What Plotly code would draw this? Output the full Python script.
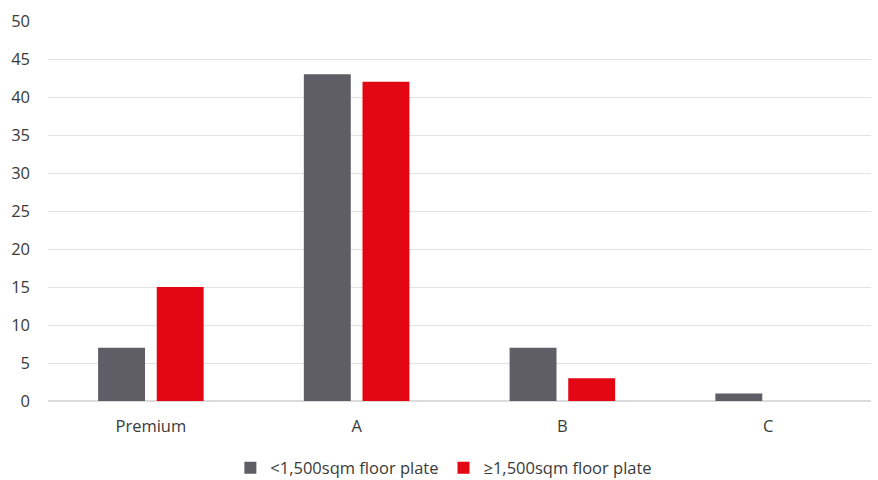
import plotly.graph_objects as go

categories = ["Premium", "A", "B", "C"]
small_plate = [7, 43, 7, 1]
large_plate = [15, 42, 3, 0]
y_ticks = [0, 5, 10, 15, 20, 25, 30, 35, 40, 45, 50]

GRAY = "#5f5e67"
RED = "#e30613"
FONT = "Open Sans, Lato, sans-serif"
TEXT = "#3a3a3a"

fig = go.Figure()
fig.add_trace(go.Bar(
    x=categories, y=small_plate, name="<1,500sqm floor plate",
    marker=dict(color=GRAY, line=dict(width=0)),
))
fig.add_trace(go.Bar(
    x=categories, y=large_plate, name="≥1,500sqm floor plate",
    marker=dict(color=RED, line=dict(width=0)),
))

fig.update_layout(
    width=878, height=480,
    margin=dict(l=48, r=7, t=21, b=79, autoexpand=False),
    paper_bgcolor="white", plot_bgcolor="white",
    barmode="group", bargap=0.43, bargroupgap=0.2,
    font=dict(family=FONT, size=16.5, color=TEXT),
    showlegend=True,
    legend=dict(
        orientation="h", x=0.481, xanchor="center",
        yref="container", y=0.025, yanchor="middle",
        font=dict(size=16.5, color=TEXT), itemwidth=30,
        traceorder="normal",
    ),
    xaxis=dict(
        showgrid=False, showline=False, ticks="",
        tickfont=dict(size=16.5, color=TEXT),
        ticklabelstandoff=13,
    ),
    yaxis=dict(
        range=[0, 50], tickvals=y_ticks, showgrid=True,
        gridcolor="#e3e1e1", gridwidth=1, zeroline=True,
        zerolinecolor="#dcdada", zerolinewidth=1.5, showline=False,
        ticks="", tickfont=dict(size=16.5, color=TEXT),
        ticklabelstandoff=17,
    ),
)

fig.write_html("out.html")
